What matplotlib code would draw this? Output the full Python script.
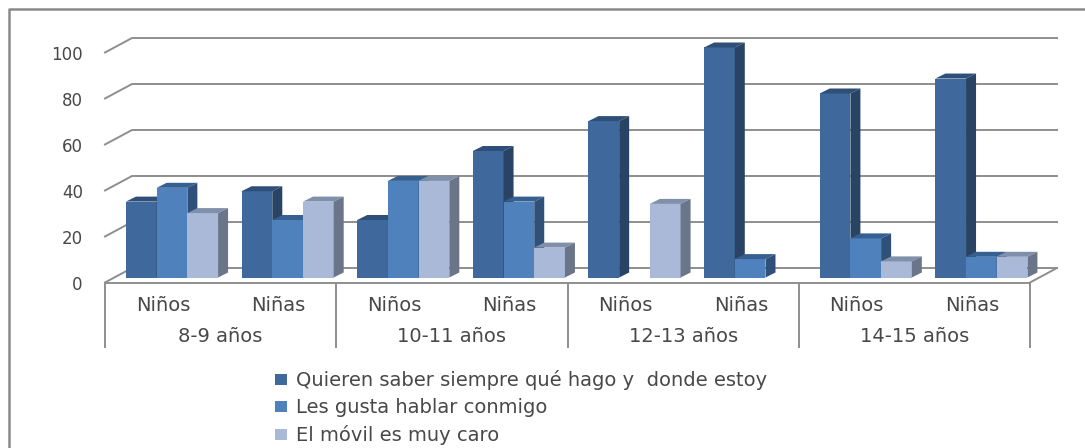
#!/usr/bin/env python3
"""Pseudo-3D clustered bars: por qué los padres llaman al móvil, por edad y sexo."""

import matplotlib
matplotlib.use("Agg")
import matplotlib.pyplot as plt
from matplotlib.lines import Line2D
from matplotlib.patches import Patch

plt.rcParams["font.family"] = ["DejaVu Sans"]

SEX = ["Niños", "Niñas"] * 4
AGES = ["8-9 años", "10-11 años", "12-13 años", "14-15 años"]
LABELS = [
    "Quieren saber siempre qué hago y  donde estoy",
    "Les gusta hablar conmigo",
    "El móvil es muy caro",
]
SABER = [33, 37.5, 25, 55, 68, 100, 80, 86.5]
HABLAR = [39, 25, 42, 33, 0, 8, 17, 9]
CARO = [28, 33, 42, 13, 32, 0, 7, 9]
YTICKS = [0, 20, 40, 60, 80, 100]

FRONT = ["#3F689C", "#4F81BD", "#AAB9D7"]
TOP = ["#2E5078", "#35608F", "#8090AB"]
SIDE = ["#284363", "#2F5079", "#6B7589"]
GRID = "#8E8E8E"
TEXT = "#484848"

W, H = 1085, 448
# front plane of the chart box, in pixels
X0, X1, Y0, Y100 = 105, 1030, 282.5, 52.5
UX = (X1 - X0) / 8
UY = (Y0 - Y100) / 100
WALL_DX, WALL_DY = 27 / UX, 14.5 / UY
BAR_W = 30.7 / UX
BAR_SHIFT = 9.2 / UX
BAR_DX, BAR_DY = 10 / UX, 5 / UY
BASE = 5 / UY


def draw_bar(ax, x, val, s):
    if val <= 0:
        return
    ax.bar(x, val, BAR_W, bottom=BASE, align="edge", color=FRONT[s], edgecolor="none", zorder=3, clip_on=False)
    t = BASE + val
    ax.fill([x, x + BAR_W, x + BAR_W + BAR_DX, x + BAR_DX], [t, t, t + BAR_DY, t + BAR_DY],
            color=TOP[s], lw=0, zorder=3, clip_on=False)
    ax.fill([x + BAR_W, x + BAR_W + BAR_DX, x + BAR_W + BAR_DX, x + BAR_W],
            [BASE, BASE + BAR_DY, t + BAR_DY, t], color=SIDE[s], lw=0, zorder=3, clip_on=False)


fig = plt.figure(figsize=(W / 100, H / 100), dpi=100, facecolor="white")
ax = fig.add_axes([X0 / W, 1 - Y0 / H, (X1 - X0) / W, (Y0 - Y100) / H])
ax.set_xlim(0, 8)
ax.set_ylim(0, 100)
for s in ax.spines.values():
    s.set_visible(False)

# back wall and left wall gridlines
for v in YTICKS:
    ax.plot([0, WALL_DX, 8 + WALL_DX], [v, v + WALL_DY, v + WALL_DY], color=GRID, lw=1.4, zorder=1, clip_on=False)
ax.plot([8, 8 + WALL_DX], [0, WALL_DY], color=GRID, lw=1.4, zorder=1, clip_on=False)

# bars, left to right so each one covers its neighbour's side
for i in range(8):
    for s, vals in enumerate([SABER, HABLAR, CARO]):
        draw_bar(ax, i + 0.5 - 1.5 * BAR_W + BAR_SHIFT + s * BAR_W, vals[i], s)

# front floor edge and category dividers
ax.plot([0, 8], [0, 0], color=GRID, lw=1.4, zorder=4, clip_on=False)
for g in range(5):
    ax.plot([g * 2, g * 2], [0, -(347 - Y0) / UY], color=GRID, lw=1.4, zorder=4, clip_on=False)

ax.set_yticks(YTICKS)
ax.set_xticks([i + 0.5 for i in range(8)], SEX)
ax.tick_params(axis="y", length=0, pad=16, labelsize=12, labelcolor=TEXT)
ax.tick_params(axis="x", length=0, pad=10, labelsize=14, labelcolor=TEXT)
for g, age in enumerate(AGES):
    ax.text(g * 2 + 1, -(336 - Y0) / UY, age, ha="center", va="center", fontsize=14, color=TEXT)

handles = [Patch(facecolor=c, edgecolor="none", label=l) for c, l in zip(FRONT, LABELS)]
ax.legend(handles=handles, loc="upper left", bbox_to_anchor=(275 / W, 1 - 370 / H),
          bbox_transform=fig.transFigure, frameon=False, fontsize=14, labelcolor=TEXT,
          handlelength=0.6, handleheight=0.5, handletextpad=0.5, labelspacing=0.42,
          borderpad=0, borderaxespad=0)

# outer chart frame, cut by the crop on the right and bottom
fig.add_artist(Line2D([8.5 / W, 8.5 / W, 1], [0, 1 - 9 / H, 1 - 9 / H], color="#8A8A8A", lw=1.8))

fig.savefig("out.png", dpi=100, facecolor="white")
